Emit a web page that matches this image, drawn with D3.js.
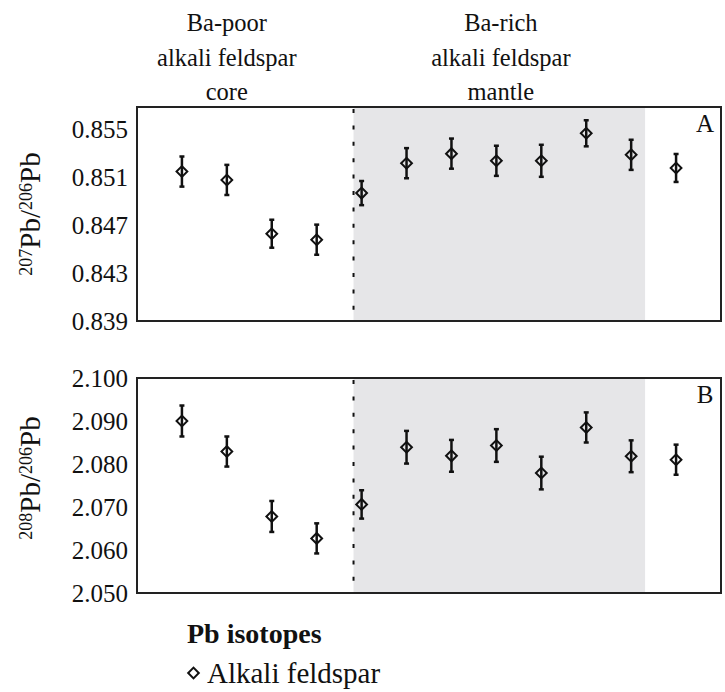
<!DOCTYPE html>
<html lang="en">
<head>
<meta charset="UTF-8">
<title>Pb isotopes in alkali feldspar</title>
<script src="https://cdn.jsdelivr.net/npm/d3@7"></script>
</head>
<body style="margin:0; background:#fff;">
<div id="chart"></div>
<script>
// spot number along the traverse, core -> rim
var spots = [1, 2, 3, 4, 5, 6, 7, 8, 9, 10, 11, 12];

// 207Pb/206Pb and 2 sigma
var pb207 = [0.8515, 0.8508, 0.8463, 0.8458, 0.8497, 0.8522, 0.8530, 0.8524, 0.8524, 0.8547, 0.8529, 0.8518];
var err207 = [0.00126, 0.00126, 0.00117, 0.00126, 0.00101, 0.00126, 0.00126, 0.00126, 0.00134, 0.00109, 0.00126, 0.00117];

// 208Pb/206Pb and 2 sigma
var pb208 = [2.0900, 2.0829, 2.0678, 2.0627, 2.0706, 2.0839, 2.0819, 2.0843, 2.0779, 2.0885, 2.0818, 2.0810];
var err208 = [0.0036, 0.0035, 0.0036, 0.0035, 0.0033, 0.0038, 0.0037, 0.0038, 0.0038, 0.0035, 0.0037, 0.0035];

var ticksA = [0.839, 0.843, 0.847, 0.851, 0.855];
var ticksB = [2.050, 2.060, 2.070, 2.080, 2.090, 2.100];

// zone boundaries (in spot units): core/mantle contact and end of shaded mantle
var coreMantle = 4.82;
var mantleEnd = 11.31;

var zoneLabels = [
  {x: 2.0, lines: ["Ba-poor", "alkali feldspar", "core"]},
  {x: 8.1, lines: ["Ba-rich", "alkali feldspar", "mantle"]}
];

var FONT = "Liberation Serif";
var W = 725, H = 692;
var left = 137, right = 721;

var svg = d3.select("#chart").append("svg")
    .attr("width", W).attr("height", H)
    .attr("font-family", FONT);

var x = d3.scaleLinear().domain([0, 13]).range([left, right]);

// header labels
zoneLabels.forEach(function(z) {
  var t = svg.append("text")
      .attr("text-anchor", "middle")
      .attr("font-family", FONT)
      .attr("font-size", 24.5)
      .attr("fill", "#111");
  z.lines.forEach(function(l, i) {
    t.append("tspan").attr("x", x(z.x)).attr("y", 31 + i * 34.5).text(l);
  });
});

var diamond = d3.symbol().type(d3.symbolSquare).size(58);

function panel(top, bottom, domain, ticks, vals, errs, sup1, sup2, titleY, letter) {
  var y = d3.scaleLinear().domain(domain).range([bottom, top]);
  var g = svg.append("g");

  g.append("rect")
      .attr("x", x(coreMantle)).attr("y", top)
      .attr("width", x(mantleEnd) - x(coreMantle)).attr("height", bottom - top)
      .attr("fill", "#e6e6e8");

  g.append("line")
      .attr("x1", x(coreMantle)).attr("x2", x(coreMantle))
      .attr("y1", top + 2).attr("y2", bottom)
      .attr("stroke", "#111").attr("stroke-width", 2)
      .attr("stroke-dasharray", "4,12.4");

  var ax = g.append("g")
      .attr("transform", "translate(" + left + ",0)")
      .call(d3.axisLeft(y).tickValues(ticks).tickFormat(d3.format(".3f")).tickSize(0).tickPadding(9))
      .attr("font-family", FONT)
      .attr("font-size", 25);
  ax.select(".domain").remove();
  ax.selectAll("text").attr("fill", "#111");

  g.append("rect")
      .attr("x", left).attr("y", top)
      .attr("width", right - left).attr("height", bottom - top)
      .attr("fill", "none").attr("stroke", "#222").attr("stroke-width", 2);

  var pts = g.selectAll("g.pt").data(spots).join("g").attr("class", "pt");
  pts.append("line")
      .attr("x1", function(d) { return x(d); }).attr("x2", function(d) { return x(d); })
      .attr("y1", function(d, i) { return y(vals[i] + errs[i]); })
      .attr("y2", function(d, i) { return y(vals[i] - errs[i]); })
      .attr("stroke", "#111").attr("stroke-width", 2.5);
  [1, -1].forEach(function(s) {
    pts.append("line")
        .attr("x1", function(d) { return x(d) - 2.5; }).attr("x2", function(d) { return x(d) + 2.5; })
        .attr("y1", function(d, i) { return y(vals[i] + s * errs[i]); })
        .attr("y2", function(d, i) { return y(vals[i] + s * errs[i]); })
        .attr("stroke", "#111").attr("stroke-width", 2.5);
  });
  pts.append("path")
      .attr("d", diamond)
      .attr("transform", function(d, i) { return "translate(" + x(d) + "," + y(vals[i]) + ") rotate(45)"; })
      .attr("fill", "none").attr("stroke", "#111").attr("stroke-width", 2);

  g.append("text")
      .attr("x", right - 16).attr("y", top + 25)
      .attr("text-anchor", "middle")
      .attr("font-family", FONT)
      .attr("font-size", 25)
      .attr("fill", "#111")
      .text(letter);

  // axis title with superscripts
  var t = g.append("text")
      .attr("transform", "translate(40," + titleY + ") rotate(-90)")
      .attr("text-anchor", "middle")
      .attr("font-family", FONT)
      .attr("font-size", 29)
      .attr("fill", "#111");
  t.append("tspan").attr("font-size", 18).attr("dy", -8).text(sup1);
  t.append("tspan").attr("dy", 8).text("Pb/");
  t.append("tspan").attr("font-size", 18).attr("dy", -8).text(sup2);
  t.append("tspan").attr("dy", 8).text("Pb");
}

panel(107, 321, [0.839, 0.8569], ticksA, pb207, err207, "207", "206", 214, "A");
panel(378, 593, [2.050, 2.100], ticksB, pb208, err208, "208", "206", 478, "B");

// legend
svg.append("text")
    .attr("x", 187).attr("y", 643)
    .attr("font-family", FONT)
    .attr("font-size", 28).attr("font-weight", "bold")
    .attr("fill", "#111")
    .text("Pb isotopes");
svg.append("path")
    .attr("d", d3.symbol().type(d3.symbolSquare).size(56))
    .attr("transform", "translate(193.5,673) rotate(45)")
    .attr("fill", "none").attr("stroke", "#111").attr("stroke-width", 2);
svg.append("text")
    .attr("x", 207).attr("y", 683)
    .attr("font-family", FONT)
    .attr("font-size", 29)
    .attr("fill", "#111")
    .text("Alkali feldspar");
</script>
</body>
</html>
